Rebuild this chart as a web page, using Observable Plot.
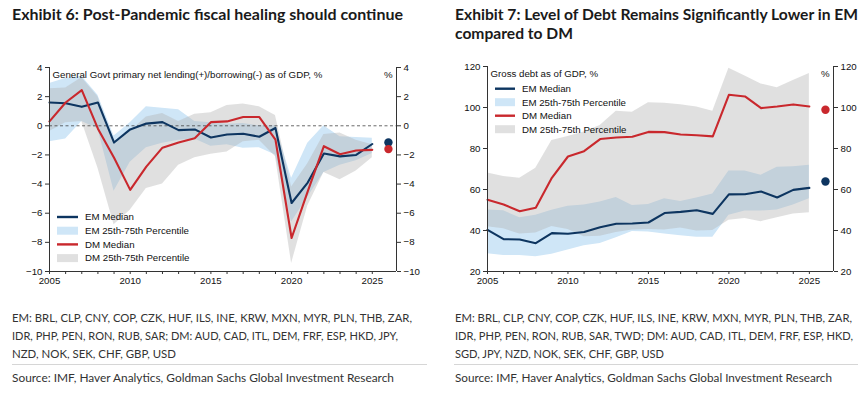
<!DOCTYPE html>
<html>
<head>
<meta charset="utf-8">
<script src="https://cdn.jsdelivr.net/npm/d3@7"></script>
<script src="https://cdn.jsdelivr.net/npm/@observablehq/plot@0.6"></script>
<style>
  html, body { margin: 0; padding: 0; background: #fff; }
  body { width: 866px; height: 393px; position: relative; overflow: hidden; }
  .abs { position: absolute; }
  .title { font-family: Lato, "Open Sans", sans-serif; font-weight: bold; font-size: 14.5px; color: #1a1a1a; line-height: 19px; white-space: nowrap; }
  .note { font-family: Lato, "Open Sans", sans-serif; font-size: 12px; color: #333; line-height: 18px; white-space: nowrap; }
  .sep { position: absolute; height: 1px; background: #d6d6d6; }
</style>
</head>
<body>
<script>
// ---------- data ----------
const years = [2005, 2006, 2007, 2008, 2009, 2010, 2011, 2012, 2013, 2014, 2015, 2016, 2017, 2018, 2019, 2020, 2021, 2022, 2023, 2024, 2025];
const xTickLabels = [2005, 2010, 2015, 2020, 2025];
const forecastYear = 2026;

// Exhibit 6: primary balance, % of GDP
const fiscalEmMedian = [1.6, 1.55, 1.3, 1.6, -1.15, -0.25, 0.15, 0.25, -0.3, -0.25, -0.8, -0.6, -0.55, -0.75, -0.15, -5.3, -3.9, -1.9, -2.1, -2.0, -1.25];
const fiscalEmP25 = [-1.1, -0.9, 0.3, -0.2, -4.5, -2.5, -1.5, -1.2, -1.0, -0.9, -1.4, -1.3, -1.55, -1.5, -2.0, -6.6, -4.9, -3.2, -2.7, -2.4, -1.9];
const fiscalEmP75 = [2.9, 3.25, 3.4, 2.1, -0.7, 0.2, 1.3, 1.2, 1.1, 0.3, 0.2, 0.1, 0.15, 0.0, 0.0, -3.6, -1.2, 0.0, -0.75, -0.8, -0.85];
const fiscalDmMedian = [0.3, 1.6, 2.45, -0.2, -2.2, -4.4, -2.8, -1.5, -1.15, -0.85, 0.25, 0.3, 0.6, 0.6, -0.95, -7.7, -4.5, -1.4, -1.95, -1.7, -1.65];
const fiscalDmP25 = [-0.4, 0.2, 0.3, -2.9, -6.8, -5.8, -4.3, -4.0, -2.7, -2.2, -1.95, -1.8, -1.1, -1.0, -2.1, -9.45, -5.5, -3.2, -3.7, -3.1, -2.2];
const fiscalDmP75 = [2.55, 2.6, 3.3, 2.0, -1.1, -0.4, 0.6, 0.85, 0.3, 0.8, 0.9, 1.4, 1.5, 1.3, 0.7, -4.2, -2.6, -0.6, -0.5, -1.0, -1.3];
const fiscalForecastEm = -1.15;
const fiscalForecastDm = -1.6;
const fiscalYTicks = [-10, -8, -6, -4, -2, 0, 2, 4];

// Exhibit 7: gross debt, % of GDP
const debtEmMedian = [40.3, 35.8, 35.6, 33.8, 38.7, 38.4, 39.3, 41.6, 43.3, 43.4, 43.9, 48.5, 49.1, 49.9, 48.1, 57.6, 57.7, 59.0, 56.1, 59.8, 60.8];
const debtEmP25 = [28.6, 27.8, 27.8, 27.2, 28.4, 30.5, 32.6, 33.6, 36.5, 39.5, 39.3, 38.3, 37.5, 36.7, 36.7, 47.5, 49.5, 49.5, 50.0, 52.5, 55.5];
const debtEmP75 = [50.0, 49.6, 46.2, 47.5, 49.9, 51.8, 52.5, 53.9, 56.1, 52.2, 52.7, 55.5, 54.2, 55.8, 57.8, 69.0, 69.0, 67.0, 70.8, 71.1, 71.8];
const debtDmMedian = [55.0, 52.7, 49.4, 51.1, 65.7, 76.1, 78.7, 84.6, 85.4, 85.7, 88.1, 88.0, 86.8, 86.5, 85.9, 106.2, 105.4, 99.7, 100.5, 101.5, 100.5];
const debtDmP25 = [41.8, 40.8, 38.3, 38.8, 42.0, 40.5, 37.0, 37.2, 39.0, 40.3, 40.5, 40.3, 41.2, 39.8, 40.0, 45.0, 45.8, 44.3, 46.2, 48.0, 48.6];
const debtDmP75 = [68.0, 66.3, 65.5, 70.4, 83.9, 85.9, 88.1, 91.2, 98.2, 97.7, 102.3, 102.1, 101.3, 100.2, 98.2, 119.2, 115.4, 111.5, 109.6, 113.2, 116.6];
const debtForecastEm = 63.9;
const debtForecastDm = 98.9;
const debtYTicks = [20, 40, 60, 80, 100, 120];

const legendLabels = ["EM Median", "EM 25th-75th Percentile", "DM Median", "DM 25th-75th Percentile"];
const titles1 = ["Exhibit 6: Post-Pandemic fiscal healing should continue"];
const titles2 = ["Exhibit 7: Level of Debt Remains Significantly Lower in EM", "compared to DM"];
const subtitles = ["General Govt primary net lending(+)/borrowing(-) as of GDP, %", "Gross debt as of GDP, %"];
const notes1 = ["EM: BRL, CLP, CNY, COP, CZK, HUF, ILS, INE, KRW, MXN, MYR, PLN, THB, ZAR,",
                "IDR, PHP, PEN, RON, RUB, SAR; DM: AUD, CAD, ITL, DEM, FRF, ESP, HKD, JPY,",
                "NZD, NOK, SEK, CHF, GBP, USD"];
const notes2 = ["EM: BRL, CLP, CNY, COP, CZK, HUF, ILS, INE, KRW, MXN, MYR, PLN, THB, ZAR,",
                "IDR, PHP, PEN, RON, RUB, SAR, TWD; DM: AUD, CAD, ITL, DEM, FRF, ESP, HKD,",
                "SGD, JPY, NZD, NOK, SEK, CHF, GBP, USD"];
const source = "Source: IMF, Haver Analytics, Goldman Sachs Global Investment Research";

// ---------- styles ----------
const C = {
  em: "#0d3560", dm: "#c9282d",
  emBand: "#cfe6f7", dmBand: "#b2b2b2", dmBandOpacity: 0.4,
  axis: "#333", text: "#111"
};
const xDomain = [2005, 2026.5];
const chartFont = "'Liberation Sans', Arial, sans-serif";

function rows(em, emLo, emHi, dm, dmLo, dmHi) {
  return years.map((year, i) => ({year, em: em[i], emLo: emLo[i], emHi: emHi[i], dm: dm[i], dmLo: dmLo[i], dmHi: dmHi[i]}));
}

function makeChart({data, yDomain, yTicks, forecast, subtitle, width, marginLeft, marginRight, marginTop, marginBottom, zeroLine}) {
  return Plot.plot({
    width, height: 260,
    marginLeft, marginRight, marginTop, marginBottom,
    style: {fontFamily: chartFont, fontSize: "9.7px", color: C.text, background: "transparent", overflow: "visible"},
    x: {domain: xDomain},
    y: {domain: yDomain},
    marks: [
      Plot.areaY(data, {x: "year", y1: "emLo", y2: "emHi", fill: C.emBand}),
      Plot.areaY(data, {x: "year", y1: "dmLo", y2: "dmHi", fill: C.dmBand, fillOpacity: C.dmBandOpacity}),
      zeroLine ? Plot.ruleY([0], {stroke: "#444", strokeWidth: 0.8, strokeDasharray: "3,2.5"}) : null,
      Plot.lineY(data, {x: "year", y: "em", stroke: C.em, strokeWidth: 2.1}),
      Plot.lineY(data, {x: "year", y: "dm", stroke: C.dm, strokeWidth: 2.1}),
      Plot.dot(forecast, {x: "year", y: "value", fill: "color", r: 4.2}),
      Plot.ruleX(xDomain, {stroke: C.axis, strokeWidth: 1}),
      Plot.ruleY([yDomain[0]], {stroke: C.axis, strokeWidth: 1}),
      Plot.axisY({anchor: "left", ticks: yTicks, tickSize: 4, tickPadding: 3, label: null, stroke: C.axis}),
      Plot.axisY({anchor: "right", ticks: yTicks, tickSize: 4, tickPadding: 3, label: null, stroke: C.axis}),
      Plot.axisX({ticks: years, tickSize: 3, tickFormat: () => "", label: null, stroke: C.axis}),
      Plot.axisX({ticks: xTickLabels, tickSize: 0, tickPadding: 6, tickFormat: d => String(d), label: null}),
      Plot.text([subtitle], {frameAnchor: "top-left", dx: 3, dy: 7, text: d => d, textAnchor: "start", lineAnchor: "middle", fill: C.text}),
      Plot.text(["%"], {frameAnchor: "top-right", dx: -4, dy: 7, text: d => d, textAnchor: "end", lineAnchor: "middle", fill: C.text})
    ]
  });
}

const fiscalData = rows(fiscalEmMedian, fiscalEmP25, fiscalEmP75, fiscalDmMedian, fiscalDmP25, fiscalDmP75);
const debtData = rows(debtEmMedian, debtEmP25, debtEmP75, debtDmMedian, debtDmP25, debtDmP75);

const chart1 = makeChart({
  data: fiscalData, yDomain: [-10, 4], yTicks: fiscalYTicks,
  forecast: [{year: forecastYear, value: fiscalForecastEm, color: C.em}, {year: forecastYear, value: fiscalForecastDm, color: C.dm}],
  subtitle: subtitles[0], width: 430, marginLeft: 49, marginRight: 34, marginTop: 27, marginBottom: 29, zeroLine: true
});
const chart2 = makeChart({
  data: debtData, yDomain: [20, 120], yTicks: debtYTicks,
  forecast: [{year: forecastYear, value: debtForecastEm, color: C.em}, {year: forecastYear, value: debtForecastDm, color: C.dm}],
  subtitle: subtitles[1], width: 436, marginLeft: 57, marginRight: 33, marginTop: 26, marginBottom: 29, zeroLine: false
});

function place(el, left, top) {
  el.classList.add("abs");
  el.style.left = left + "px";
  el.style.top = top + "px";
  document.body.appendChild(el);
}
place(chart1, 0, 40);
place(chart2, 430, 40);

// ---------- legends ----------
const overlay = d3.select(document.body).append("svg")
  .attr("class", "abs").attr("width", 866).attr("height", 393)
  .style("left", "0px").style("top", "0px").style("pointer-events", "none")
  .style("font-family", chartFont).style("font-size", "9.7px");

function legend(x0, y0, step, swatchW, textX) {
  const kinds = [
    {type: "line", color: C.em},
    {type: "area", color: C.emBand, opacity: 1},
    {type: "line", color: C.dm},
    {type: "area", color: C.dmBand, opacity: C.dmBandOpacity}
  ];
  legendLabels.forEach((label, i) => {
    const y = y0 + i * step;
    const k = kinds[i];
    if (k.type === "line") {
      overlay.append("line").attr("x1", x0).attr("x2", x0 + swatchW).attr("y1", y).attr("y2", y)
        .attr("stroke", k.color).attr("stroke-width", 2.4);
    } else {
      overlay.append("rect").attr("x", x0).attr("y", y - 4).attr("width", swatchW).attr("height", 8)
        .attr("fill", k.color).attr("fill-opacity", k.opacity);
    }
    overlay.append("text").attr("x", textX).attr("y", y).attr("dy", "0.35em").attr("fill", C.text).text(label);
  });
}
legend(57, 217, 13.7, 21, 85);
legend(495, 88.7, 13.5, 20, 522);

// ---------- titles & notes (squeezed horizontally to the reference's condensed widths) ----------
function addLine(cls, text, left, top) {
  const d = document.createElement("div");
  d.className = cls + " abs";
  d.textContent = text;
  d.style.left = left + "px";
  d.style.top = top + "px";
  document.body.appendChild(d);
  return d;
}
function squeeze(el, k) {
  el.style.transformOrigin = "0 0";
  el.style.transform = `scaleX(${k})`;
  return k;
}
function fitTo(el, targetWidth) {
  return squeeze(el, targetWidth / el.getBoundingClientRect().width);
}
fitTo(addLine("title", titles1[0], 12, 5), 391);
const kT2 = fitTo(addLine("title", titles2[0], 455, 5), 403);
squeeze(addLine("title", titles2[1], 455, 24), kT2);
const noteTops = [309, 327, 345];
const notes1W = [400, 386, 164];
const notes2W = [397, 398, 209];
notes1.forEach((t, i) => fitTo(addLine("note", t, 12, noteTops[i]), notes1W[i]));
notes2.forEach((t, i) => fitTo(addLine("note", t, 455, noteTops[i]), notes2W[i]));
fitTo(addLine("note", source, 12, 369), 382);
fitTo(addLine("note", source, 455, 369), 377);

const s1 = document.createElement("div"); s1.className = "sep"; s1.style.left = "12px"; s1.style.width = "415px"; s1.style.top = "364px"; document.body.appendChild(s1);
const s2 = document.createElement("div"); s2.className = "sep"; s2.style.left = "454px"; s2.style.width = "404px"; s2.style.top = "364px"; document.body.appendChild(s2);
</script>
</body>
</html>
